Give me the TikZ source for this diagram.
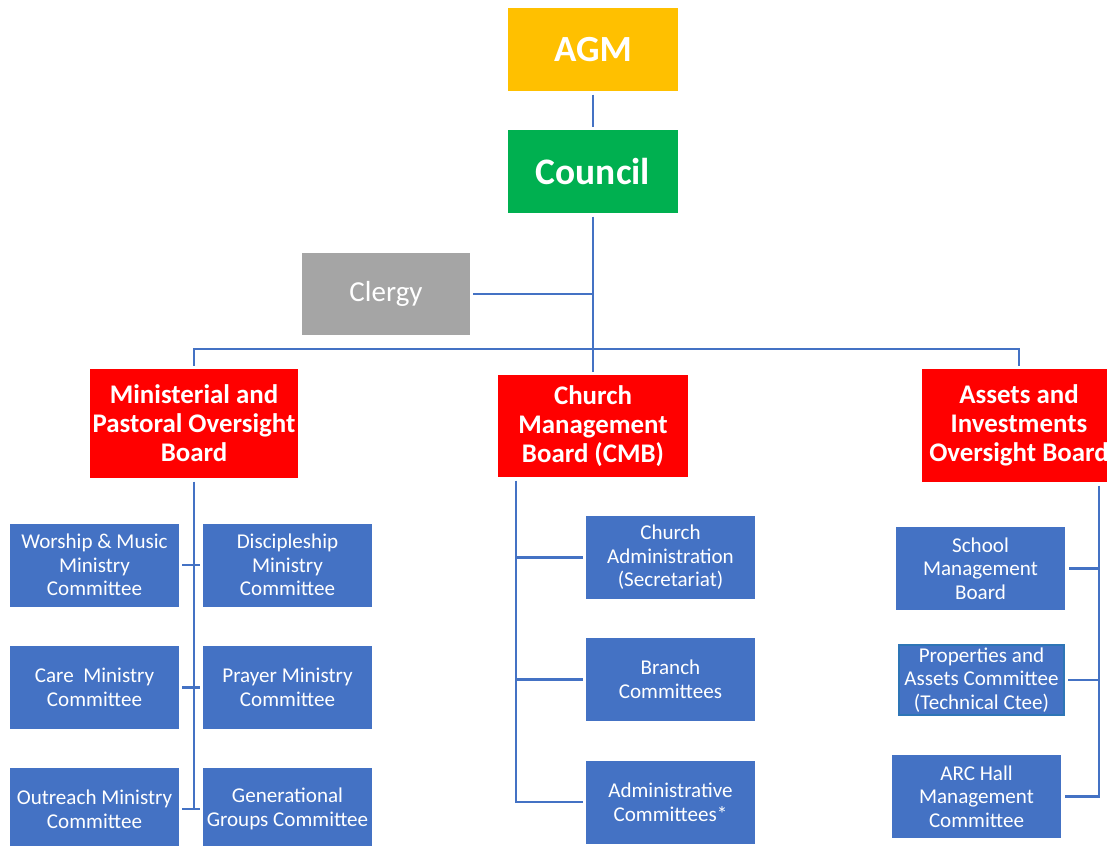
\documentclass[tikz,border=0pt]{standalone}
\usepackage{fontspec}
\setmainfont{Carlito}
\usetikzlibrary{positioning}

\definecolor{agmyellow}{HTML}{FFC000}
\definecolor{councilgreen}{HTML}{00B050}
\definecolor{clergygray}{HTML}{A5A5A5}
\definecolor{boardred}{HTML}{FF0000}
\definecolor{ctteeblue}{HTML}{4472C4}
\definecolor{edgeblue}{HTML}{2E75B6}

\begin{document}
\begin{tikzpicture}[x=0.02cm,y=-0.02cm,
  box/.style={draw=none,text=white,align=center,inner sep=0pt,outer sep=2pt},
  top/.style={box,minimum width=3.4cm,minimum height=1.66cm,font=\bfseries\fontsize{21}{24}\selectfont},
  board/.style={box,fill=boardred,font=\bfseries\fontsize{15.3}{16.5}\selectfont},
  cttee/.style={box,fill=ctteeblue,minimum width=3.38cm,minimum height=1.66cm,font=\fontsize{12}{13.4}\selectfont},
  conn/.style={draw=ctteeblue,line width=1.5pt}]
  \useasboundingbox (0,0) rectangle (1107,846);
  % top of the chart
  \node[top,fill=agmyellow]    (agm)     at (593,49.5)  {AGM};
  \node[top,fill=councilgreen] (council) at (593,171.5) {\fontsize{21.3}{24}\selectfont Council};
  \node[box,fill=clergygray,minimum width=3.36cm,minimum height=1.64cm,
        font=\fontsize{16.5}{18}\selectfont] (clergy) at (386,294) {Clergy};
  % boards
  \node[board,minimum width=4.16cm,minimum height=2.18cm] (mpob) at (194,423.5)
        {Ministerial and\\Pastoral Oversight\\Board};
  \node[board,minimum width=3.8cm,minimum height=2.04cm]  (cmb)  at (593,426)
        {Church\\Management\\Board (CMB)};
  \node[board,minimum width=3.88cm,minimum height=2.26cm] (aiob) at (1019,425.5)
        {Assets and\\Investments\\Oversight Board};
  \draw[conn] (agm) -- (council);
  \draw[conn] (council) -- (cmb);
  \coordinate (bus) at (593,349);
  \draw[conn] (clergy) -- (council.south |- clergy);
  \draw[conn] (mpob) |- (bus) -| (aiob);
  % ministerial and pastoral committees
  \node[cttee] (worship)  at (94.5,565)  {Worship \& Music\\Ministry\\Committee};
  \node[cttee] (disc)     at (287.5,565) {Discipleship\\Ministry\\Committee};
  \node[cttee] (care)     at (94.5,687.5)  {Care\ \ Ministry\\Committee};
  \node[cttee] (prayer)   at (287.5,687.5) {Prayer Ministry\\Committee};
  \node[cttee] (outreach) at (94.5,809)  {Outreach Ministry\\Committee};
  \node[cttee] (genera)   at (287.5,809) {Generational\\Groups Committee};
  \draw[conn] (mpob) -- (mpob.south |- outreach);
  \draw[conn] (worship) -- (disc);
  \draw[conn] (care) -- (prayer);
  \draw[conn] (outreach) -- (genera);
  % church management committees
  \node[cttee] (chadmin) at (670.5,557.5) {Church\\Administration\\(Secretariat)};
  \node[cttee] (branch)  at (670.5,679.5) {Branch\\Committees};
  \node[cttee] (admcom)  at (670.5,802)   {Administrative\\Committees*};
  \coordinate (cmbtrunk) at (516,0);
  \draw[conn] (cmbtrunk |- cmb.south) |- (admcom);
  \draw[conn] (cmbtrunk |- chadmin) -- (chadmin);
  \draw[conn] (cmbtrunk |- branch) -- (branch);
  % assets and investments committees
  \node[cttee] (school) at (980.5,568.5) {School\\Management\\Board};
  \node[cttee,draw=edgeblue,line width=1.2pt,minimum width=3.3cm,minimum height=1.4cm]
        (props) at (981.5,680) {Properties and\\Assets Committee\\(Technical Ctee)};
  \node[cttee] (arc) at (976.5,796.5) {ARC Hall\\Management\\Committee};
  \coordinate (aiobtrunk) at (1099,0);
  \draw[conn] (aiobtrunk |- aiob.south) |- (arc);
  \draw[conn] (aiobtrunk |- school) -- (school);
  \draw[conn] (aiobtrunk |- props) -- (props);
\end{tikzpicture}
\end{document}
